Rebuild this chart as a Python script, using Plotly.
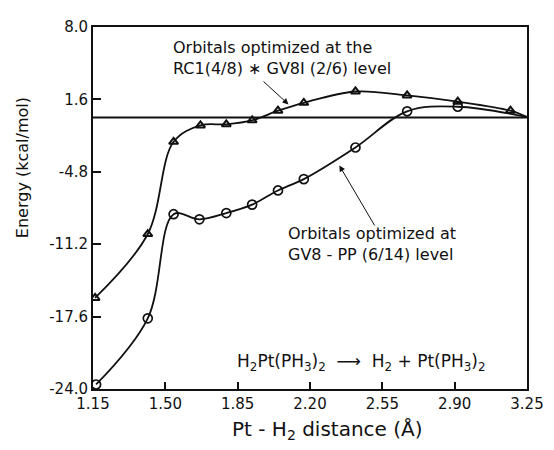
import plotly.graph_objects as go

# Pt-H2 distance (Å) and energy (kcal/mol)
tri_x = [1.16, 1.415, 1.54, 1.67, 1.795, 1.92, 2.045, 2.17, 2.42, 2.67, 2.915, 3.17]
tri_y = [-15.95, -10.3, -2.15, -0.7, -0.6, -0.25, 0.6, 1.3, 2.3, 1.95, 1.4, 0.6]
circ_x = [1.165, 1.415, 1.54, 1.665, 1.795, 1.92, 2.045, 2.17, 2.42, 2.67, 2.915]
circ_y = [-23.6, -17.75, -8.55, -9.0, -8.45, -7.7, -6.45, -5.45, -2.65, 0.55, 0.95]
end_x = [3.25]
end_y = [0.05]
x_ticks = [1.15, 1.50, 1.85, 2.20, 2.55, 2.90, 3.25]
y_ticks = [-24.0, -17.6, -11.2, -4.8, 1.6, 8.0]

FONT = "DejaVu Sans"
INK = "#111111"

fig = go.Figure()
fig.add_hline(y=0, line=dict(color=INK, width=2))
fig.add_trace(go.Scatter(x=tri_x + end_x, y=tri_y + end_y, mode="lines",
                         line=dict(shape="spline", smoothing=1, color=INK, width=1.8),
                         hoverinfo="skip"))
fig.add_trace(go.Scatter(x=circ_x + end_x, y=circ_y + end_y, mode="lines",
                         line=dict(shape="spline", smoothing=1, color=INK, width=1.8),
                         hoverinfo="skip"))
fig.add_trace(go.Scatter(x=tri_x, y=tri_y, mode="markers",
                         marker=dict(symbol="triangle-up-open", size=8, color=INK,
                                     line=dict(width=2))))
fig.add_trace(go.Scatter(x=circ_x, y=circ_y, mode="markers",
                         marker=dict(symbol="circle-open", size=9, color=INK,
                                     line=dict(width=1.7))))

axis_common = dict(showgrid=False, zeroline=False, showline=True, linecolor=INK,
                   linewidth=2, mirror=True, ticks="inside", tickcolor=INK,
                   tickwidth=1.5, tickfont=dict(family=FONT, size=15, color=INK))
fig.update_xaxes(range=[1.15, 3.25], tickvals=x_ticks,
                 ticktext=[f"{v:.2f}" for v in x_ticks], ticklen=7, **axis_common)
fig.update_yaxes(range=[-24, 8], tickvals=y_ticks,
                 ticktext=[f"{v:.1f}" for v in y_ticks], ticklen=8, **axis_common)

ann_font = dict(family=FONT, size=16, color=INK)
fig.add_annotation(x=1.525, y=5.3, xanchor="left", yanchor="middle", align="left",
                   text="Orbitals optimized at the<br>RC1(4/8) \u2217 GV8I (2/6) level",
                   showarrow=False, font=ann_font)
fig.add_annotation(x=2.096, y=1.16, ax=1.968, ay=3.3, axref="x", ayref="y",
                   text="", showarrow=True, arrowhead=2, arrowsize=1.2,
                   arrowwidth=1, arrowcolor=INK)
fig.add_annotation(x=2.085, y=-11.2, xanchor="left", yanchor="middle", align="left",
                   text="Orbitals optimized at<br>GV8 - PP (6/14) level",
                   showarrow=False, font=ann_font)
fig.add_annotation(x=2.342, y=-4.24, ax=2.517, ay=-9.68, axref="x", ayref="y",
                   text="", showarrow=True, arrowhead=2, arrowsize=1.2,
                   arrowwidth=1, arrowcolor=INK)
fig.add_annotation(x=2.448, y=-21.67, xanchor="center", yanchor="middle",
                   text="H<sub>2</sub>Pt(PH<sub>3</sub>)<sub>2</sub>  \u27f6  H<sub>2</sub> + Pt(PH<sub>3</sub>)<sub>2</sub>",
                   showarrow=False, font=dict(family=FONT, size=17, color=INK))

# axis titles
fig.add_annotation(xref="paper", yref="paper", x=(333 - 93) / 444, y=-(431 - 389) / 371,
                   xanchor="center", yanchor="middle",
                   text="Pt - H<sub>2</sub> distance (\u00c5)", showarrow=False,
                   font=dict(family=FONT, size=20, color=INK))
fig.add_annotation(xref="paper", yref="paper", x=-(93 - 21) / 444, y=(389 - 162) / 371,
                   xanchor="center", yanchor="middle", textangle=-90,
                   text="Energy (kcal/mol)", showarrow=False,
                   font=dict(family=FONT, size=16, color=INK))

# page body adds an 8px offset; size the figure so the plot area lands at
# x 93..537, y 18..389 in the 554x450 window
fig.update_layout(width=546, height=442, showlegend=False,
                  margin=dict(l=85, r=17, t=10, b=61),
                  plot_bgcolor="white", paper_bgcolor="white")
fig.write_html("out.html")
